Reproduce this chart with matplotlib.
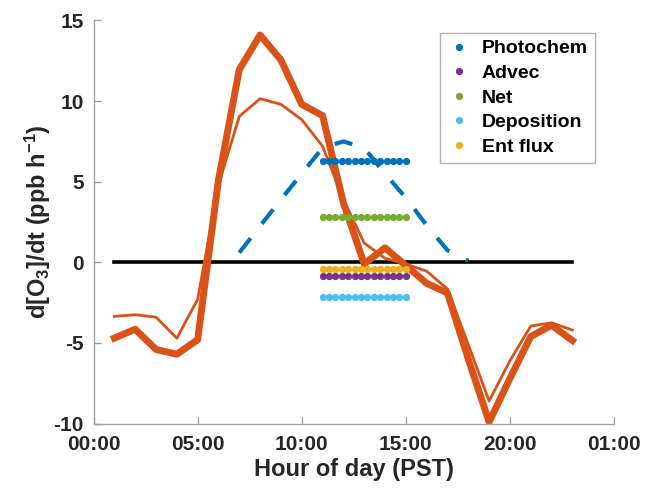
import matplotlib
matplotlib.use("Agg")
import matplotlib.pyplot as plt
import numpy as np

# hourly ozone tendency (ppb/h), hour of day 1..23
hours = np.arange(1, 24)
rate_thick = [-4.7, -4.15, -5.4, -5.7, -4.8, 5.1, 11.95, 14.1, 12.55, 9.8, 9.1, 3.7,
              -0.1, 0.9, -0.2, -1.3, -1.9, -6.0, -9.9, -7.2, -4.6, -3.9, -4.85]
rate_thin = [-3.35, -3.25, -3.4, -4.7, -2.3, 4.8, 9.05, 10.15, 9.8, 8.85, 7.2, 3.9,
             1.2, 0.25, -0.1, -0.55, -1.65, -5.1, -8.6, -6.1, -3.95, -3.75, -4.2]

# photochemical production curve (dashed)
photo_hours = np.arange(7, 19)
photo_curve = [0.6, 2.25, 3.9, 5.5, 7.1, 7.5, 7.1, 5.5, 4.0, 2.3, 0.75, 0.1]

# budget terms, 11:00-15:00 averages
budget_names = ["Photochem", "Advec", "Net", "Deposition", "Ent flux"]
budget_values = [6.3, -0.83, 2.82, -2.17, -0.41]
budget_colors = ["#0072BD", "#7E2F8E", "#77AC30", "#4DBEEE", "#EDB120"]
budget_hours = np.linspace(11, 15, 14)

xticks = [0, 5, 10, 15, 20, 25]
xlabels = ["00:00", "05:00", "10:00", "15:00", "20:00", "01:00"]
yticks = [-10, -5, 0, 5, 10, 15]

orange = "#D95319"
axis_grey = "#a0a0a0"
text_col = "#262626"

plt.rcParams["font.family"] = ["Liberation Sans", "DejaVu Sans"]
plt.rcParams["font.weight"] = "bold"
plt.rcParams["axes.unicode_minus"] = False
plt.rcParams["mathtext.fontset"] = "custom"
plt.rcParams["mathtext.rm"] = "Liberation Sans:bold"
plt.rcParams["mathtext.bf"] = "Liberation Sans:bold"
plt.rcParams["mathtext.default"] = "bf"

fig = plt.figure(figsize=(6.45, 4.88), dpi=100)
ax = fig.add_axes([0.145, 0.132, 0.807, 0.826])

ax.plot([1, 23], [0, 0], color="black", lw=2.6, zorder=1)
ax.plot(hours, rate_thick, color=orange, lw=5, zorder=2)
ax.plot(hours, rate_thin, color=orange, lw=2, zorder=2)
ax.plot(photo_hours, photo_curve, color="#0072BD", lw=3, dashes=(4.4, 4.4),
        zorder=3)

for name, val, col in zip(budget_names, budget_values, budget_colors):
    ax.plot(budget_hours, [val] * len(budget_hours), ls="none", marker="o",
            ms=4.2, color=col, label=name, zorder=4)

ax.set_xlim(0, 25)
ax.set_ylim(-10, 15)
ax.set_xticks(xticks)
ax.set_xticklabels(xlabels, fontweight="bold")
ax.set_yticks(yticks)
ax.set_yticklabels([str(v) for v in yticks], fontweight="bold")

for s in ["top", "right"]:
    ax.spines[s].set_visible(False)
for s in ["left", "bottom"]:
    ax.spines[s].set_color(axis_grey)
    ax.spines[s].set_linewidth(1.0)
ax.tick_params(direction="in", length=5, width=1, color=axis_grey,
               labelsize=15, labelcolor=text_col)
ax.tick_params(axis="x", pad=8)
ax.tick_params(axis="y", pad=7)

ax.set_xlabel("Hour of day (PST)", fontsize=17, fontweight="bold",
              color=text_col, labelpad=3)
ax.set_ylabel(r"d[O$_3$]/dt (ppb h$^{-1}$)", fontsize=17, fontweight="bold",
              color=text_col, labelpad=0)

leg = ax.legend(loc="upper left", bbox_to_anchor=(0.666, 0.969), numpoints=1,
                prop={"size": 14, "weight": "bold"}, frameon=True,
                fancybox=False, handlelength=1.2, handletextpad=0.6,
                labelspacing=0.36, borderpad=0.35, borderaxespad=0)
leg.get_frame().set_edgecolor(axis_grey)
leg.get_frame().set_linewidth(1.0)
for t in leg.get_texts():
    t.set_color("black")

plt.savefig("out.png", dpi=100)
